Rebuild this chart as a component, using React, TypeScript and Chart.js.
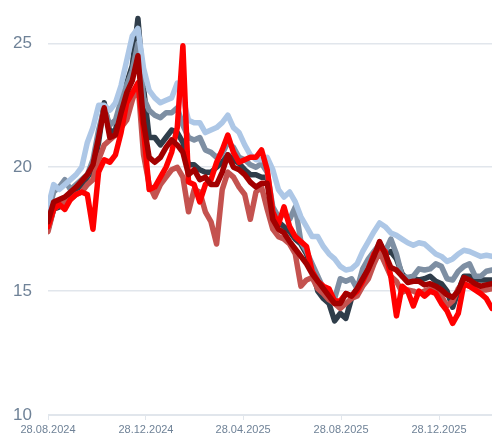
import React, { useEffect, useRef } from "react";
import { Chart, registerables } from "chart.js";

Chart.register(...registerables);

// day offsets from 28.08.2024, one sample per week
const days: number[] = Array.from({ length: 80 }, (_, i) => i * 7);

const tickDays = [0, 122, 243, 365, 487];
const tickLabels = ["28.08.2024", "28.12.2024", "28.04.2025", "28.08.2025", "28.12.2025"];
const yTicks = [10, 15, 20, 25];

const darkRed = [
  17.8, 18.6, 18.7, 18.8, 19.0, 19.2, 19.45, 19.7, 20.1, 21.2,
  22.4, 21.2, 21.3, 22.2, 23.0, 23.5, 24.5, 21.8, 20.4, 20.2,
  20.4, 20.8, 21.1, 20.9, 20.6, 19.7, 19.9, 19.5, 19.6, 19.3,
  19.3, 19.8, 20.5, 20.0, 19.9, 19.7, 19.4, 19.2, 19.35, 19.35,
  17.9, 17.5, 17.35, 17.0, 16.7, 16.4, 16.1, 15.7, 15.4, 15.1,
  14.8, 14.5, 14.5, 14.9, 14.8, 15.1, 15.5, 15.9, 16.4, 17.0,
  16.5, 15.95, 15.85, 15.6, 15.35, 15.4, 15.4, 15.25, 15.3, 15.2,
  15.05, 14.85, 14.75, 15.0, 15.55, 15.45, 15.3, 15.2, 15.25, 15.3,
];

const redSeries = [
  17.6, 18.3, 18.5, 18.3, 18.7, 18.9, 19.0, 18.9, 17.5, 19.8,
  20.3, 20.2, 20.5, 21.4, 22.6, 23.0, 23.4, 21.5, 19.1, 19.2,
  19.6, 20.0, 20.6, 21.6, 24.9, 19.4, 19.3, 18.6, 19.3, 19.5,
  20.2, 20.7, 21.3, 20.6, 20.2, 20.3, 20.4, 20.4, 20.7, 19.9,
  18.2, 17.7, 18.4, 17.6, 17.2, 17.0, 16.8, 15.8, 15.4, 15.2,
  15.1, 14.6, 14.6, 14.9, 14.8, 15.0, 15.4, 15.9, 16.5, 16.8,
  16.6, 15.6, 14.0, 15.2, 15.0, 14.4, 15.0, 14.8, 15.0, 14.9,
  14.5, 14.2, 13.7, 14.1, 15.3, 15.2, 15.05, 14.9, 14.7, 14.3,
];

const indianRed = [
  17.4, 18.3, 18.5, 18.6, 18.7, 18.9, 19.0, 19.3, 19.5, 20.3,
  20.9, 21.1, 21.3, 21.6, 21.9, 22.7, 23.4, 20.5, 19.3, 18.8,
  19.3, 19.6, 19.9, 20.0, 19.6, 18.2, 19.1, 19.0, 18.2, 17.8,
  16.9, 19.1, 19.8, 19.6, 19.2, 18.9, 17.9, 19.0, 19.2, 18.3,
  17.5, 17.2, 17.1, 16.9, 16.5, 15.2, 15.45, 15.55, 15.1, 14.9,
  14.65, 14.5, 14.3, 14.5, 14.7, 14.8, 15.2, 15.5, 16.1, 16.6,
  16.1, 15.6, 15.4, 14.95, 15.05, 15.0, 14.9, 15.0, 15.1, 15.05,
  14.8, 14.4, 14.6, 15.1, 15.3, 15.2, 15.1, 15.05, 15.05, 15.1,
];

const lightBlue = [
  18.4, 19.3, 19.1, 19.3, 19.5, 19.7, 20.0, 21.0, 21.6, 22.5,
  22.5, 22.3, 22.6, 23.3, 24.3, 25.3, 25.6, 24.0, 23.1, 22.8,
  22.6, 22.7, 22.8, 23.4, 22.8, 21.9, 21.8, 21.8, 21.4, 21.5,
  21.6, 21.8, 22.1, 21.6, 21.4, 20.9, 20.5, 20.3, 20.3, 20.4,
  19.9, 19.1, 18.8, 19.0, 18.6, 18.0, 17.6, 17.2, 17.2, 16.8,
  16.5, 16.3, 16.0, 15.85, 15.9, 16.1, 16.6, 17.0, 17.4, 17.75,
  17.6, 17.35, 17.25, 17.1, 16.95, 16.85, 16.95, 16.9, 16.7, 16.5,
  16.4, 16.2, 16.3, 16.5, 16.65, 16.6, 16.5, 16.4, 16.45, 16.4,
];

const slate = [
  18.1, 19.0, 19.2, 19.5, 19.1, 19.3, 19.5, 19.7, 20.3, 21.5,
  22.4, 21.7, 21.9, 22.7, 23.3, 23.9, 25.0, 22.8, 22.3, 22.1,
  22.0, 22.2, 22.2, 22.4, 21.7, 21.2, 21.1, 21.2, 20.7, 20.6,
  20.4, 20.55, 21.0, 20.8, 20.4, 20.3, 20.1, 20.0, 20.15, 19.8,
  18.4, 18.0, 18.1, 17.9, 18.4, 17.0, 16.6, 16.1, 15.6, 15.1,
  14.9, 14.7, 15.5, 15.4, 15.5, 15.1, 15.9, 16.3, 16.6, 16.9,
  16.6, 17.1, 16.5, 15.6, 15.55, 15.6, 15.9, 15.85, 15.9, 16.1,
  16.0, 15.5, 15.45, 15.8, 16.0, 16.1, 15.6, 15.6, 15.8, 15.85,
];

const dark = [
  17.5, 18.3, 18.4, 18.6, 18.8, 19.1, 19.3, 19.6, 19.9, 21.0,
  22.6, 21.4, 21.5, 22.5, 23.4, 24.1, 26.0, 23.2, 21.2, 21.2,
  20.9, 21.2, 21.5, 21.4, 21.0, 20.1, 20.1, 19.9, 19.8, 19.8,
  20.0, 20.2, 20.5, 20.3, 20.15, 19.9, 19.7, 19.7, 19.6, 19.6,
  18.1, 17.8, 17.6, 17.4, 17.1, 16.9, 16.5, 15.9, 15.0, 14.7,
  14.5, 13.8, 14.1, 13.9, 14.7, 15.1, 15.5, 16.0, 16.4, 16.95,
  16.5, 16.6, 16.3, 15.7, 15.45, 15.5, 15.45, 15.5, 15.6, 15.4,
  15.3, 15.0, 14.35, 15.0, 15.6, 15.6, 15.5, 15.45, 15.45, 15.45,
];

const seriesList: { values: number[]; color: string }[] = [
  { values: darkRed, color: "#a30000" },
  { values: redSeries, color: "#ff0000" },
  { values: indianRed, color: "#c4524f" },
  { values: lightBlue, color: "#adc7e6" },
  { values: slate, color: "#7e8fa3" },
  { values: dark, color: "#2f3d4a" },
];

export default function App() {
  const ref = useRef<HTMLCanvasElement | null>(null);

  useEffect(() => {
    if (!ref.current) return;
    const gridColor = "#e1e6ec";
    const textColor = "#6f8297";
    const chart = new Chart(ref.current, {
      type: "line",
      data: {
        datasets: seriesList.map((s) => ({
          data: s.values.map((v, i) => ({ x: days[i], y: v })),
          borderColor: s.color,
          backgroundColor: s.color,
          borderWidth: 5.5,
          pointRadius: 0,
          pointHoverRadius: 0,
          pointHitRadius: 0,
          tension: 0,
          borderCapStyle: "round" as const,
          borderJoinStyle: "round" as const,
          fill: false,
        })),
      },
      options: {
        animation: false,
        responsive: true,
        maintainAspectRatio: false,
        layout: { padding: 0, autoPadding: false },
        plugins: { legend: { display: false }, tooltip: { enabled: false } },
        scales: {
          x: {
            type: "linear",
            min: 0,
            max: 553,
            afterBuildTicks: (scale: any) => {
              scale.ticks = tickDays.map((v) => ({ value: v }));
            },
            afterFit: (scale: any) => {
              scale.height = 19;
              scale.paddingLeft = 0;
              scale.paddingRight = 0;
            },
            grid: {
              drawOnChartArea: false,
              drawTicks: true,
              tickLength: 5,
              color: gridColor,
            },
            border: { display: true, color: gridColor },
            ticks: {
              autoSkip: false,
              maxRotation: 0,
              padding: 3,
              color: textColor,
              font: { family: "'Liberation Sans', Arial, sans-serif", size: 11 },
              callback: (value: any) => {
                const idx = tickDays.indexOf(Number(value));
                return idx >= 0 ? tickLabels[idx] : "";
              },
            },
          },
          y: {
            type: "linear",
            min: 10,
            max: 26.75,
            afterBuildTicks: (scale: any) => {
              scale.ticks = yTicks.map((v) => ({ value: v }));
            },
            afterFit: (scale: any) => {
              scale.width = 48;
              scale.paddingTop = 0;
              scale.paddingBottom = 0;
            },
            grid: { drawTicks: false, color: gridColor, lineWidth: 1.5 },
            border: { display: false },
            ticks: {
              padding: 16,
              color: textColor,
              font: { family: "'Liberation Sans', Arial, sans-serif", size: 17 },
            },
          },
        },
      },
    });
    return () => chart.destroy();
  }, []);

  return (
    <div style={{ position: "absolute", left: 0, top: 0, width: 492, height: 434 }}>
      <canvas ref={ref} />
    </div>
  );
}
